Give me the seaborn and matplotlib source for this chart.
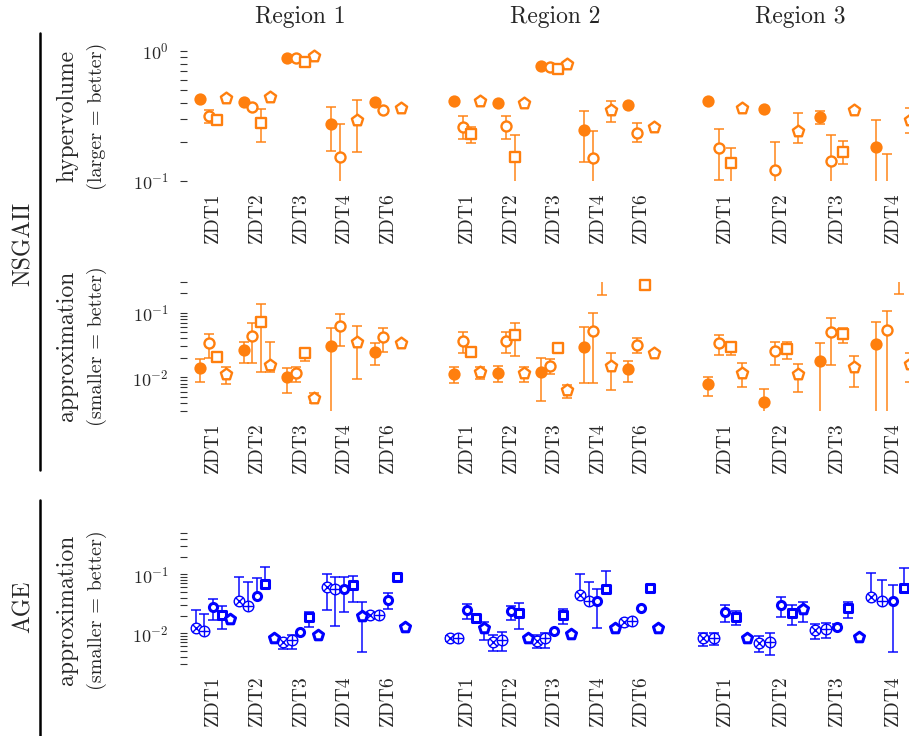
import numpy as np
import matplotlib
matplotlib.use("Agg")
import matplotlib.pyplot as plt
from matplotlib.lines import Line2D
from matplotlib.ticker import LogLocator, NullFormatter
import seaborn as sns

nan = np.nan

problems = ["ZDT1", "ZDT2", "ZDT3", "ZDT4", "ZDT6"]
regions = ["Region 1", "Region 2", "Region 3"]

# NSGAII hypervolume; rows: filled circle, open circle, square, pentagon
hv_r1 = [[0.425, 0.408, 0.88, 0.273, 0.408],
         [0.316, 0.369, 0.88, 0.154, 0.351],
         [0.294, 0.28, 0.83, nan, nan],
         [0.437, 0.445, 0.916, 0.294, 0.366]]
hv_r1_lo = [[nan, nan, nan, 0.171, nan],
            [0.28, nan, nan, 0.05, nan],
            [nan, 0.20, nan, nan, nan],
            [nan, nan, nan, 0.168, nan]]
hv_r1_hi = [[nan, nan, nan, 0.373, nan],
            [0.351, nan, nan, 0.274, nan],
            [nan, 0.36, nan, nan, nan],
            [nan, nan, nan, 0.42, nan]]

hv_r2 = [[0.415, 0.40, 0.767, 0.247, 0.385],
         [0.262, 0.265, 0.75, 0.149, 0.235],
         [0.23, 0.152, 0.724, nan, nan],
         [0.415, 0.40, 0.80, 0.351, 0.259]]
hv_r2_lo = [[nan, nan, nan, 0.14, nan],
            [0.209, 0.212, nan, 0.05, 0.20],
            [0.195, 0.05, nan, nan, nan],
            [nan, nan, nan, 0.286, 0.248]]
hv_r2_hi = [[nan, nan, nan, 0.347, nan],
            [0.316, 0.316, nan, 0.243, 0.278],
            [0.262, 0.225, nan, nan, nan],
            [nan, nan, nan, 0.415, 0.27]]

hv_r3 = [[0.415, 0.358, 0.309, 0.184, nan],
         [0.178, 0.121, 0.143, 0.08, nan],
         [0.138, nan, 0.168, nan, nan],
         [0.362, 0.244, 0.351, 0.294, nan]]
hv_r3_lo = [[nan, nan, 0.275, 0.05, nan],
            [0.101, 0.05, 0.05, 0.04, nan],
            [0.05, nan, 0.135, nan, nan],
            [0.35, 0.197, nan, 0.236, nan]]
hv_r3_hi = [[nan, nan, 0.347, 0.294, nan],
            [0.252, 0.20, 0.225, 0.16, nan],
            [0.181, nan, 0.202, nan, nan],
            [0.375, 0.335, nan, 0.362, nan]]

# NSGAII approximation
ap_r1 = [[0.0138, 0.0264, 0.0100, 0.0305, 0.0249],
         [0.0336, 0.0435, 0.0118, 0.0621, 0.0425],
         [0.0204, 0.0723, 0.0235, nan, nan],
         [0.0112, 0.0155, 0.00473, 0.0355, 0.0343]]
ap_r1_lo = [[0.0084, 0.0164, 0.0058, 0.001, 0.0155],
            [0.0197, 0.0168, 0.0086, 0.0305, 0.0249],
            [nan, 0.0119, 0.0181, nan, nan],
            [0.0079, 0.0119, 0.0040, 0.0094, 0.032]]
ap_r1_hi = [[0.019, 0.0355, 0.0138, 0.0571, 0.0335],
            [0.0463, 0.0684, 0.0143, 0.0942, 0.0585],
            [nan, 0.134, 0.0264, nan, nan],
            [0.0146, 0.0355, 0.0057, 0.0621, 0.0365]]

ap_r2 = [[0.0112, 0.0118, 0.0122, 0.0297, 0.0133],
         [0.0368, 0.0368, 0.0151, 0.0525, 0.0316],
         [0.0249, 0.0451, 0.0287, 0.45, 0.267],
         [0.0119, 0.0115, 0.00637, 0.0151, 0.024]]
ap_r2_lo = [[0.0081, 0.0084, 0.0043, 0.0081, 0.0086],
            [0.0235, 0.0241, 0.0112, 0.0081, 0.024],
            [0.0225, 0.0214, 0.026, 0.19, nan],
            [0.0093, 0.0084, 0.0047, 0.0064, 0.0225]]
ap_r2_hi = [[0.0146, 0.0149, 0.0201, 0.0591, 0.0179],
            [0.0506, 0.0496, 0.019, 0.0975, 0.0409],
            [0.0275, 0.0684, 0.032, 0.9, nan],
            [0.0146, 0.0143, 0.0076, 0.024, 0.0255]]

ap_r3 = [[0.0078, 0.0042, 0.0181, 0.0327, nan],
         [0.0343, 0.0255, 0.0496, 0.0538, nan],
         [0.0297, 0.0274, 0.0463, 0.45, nan],
         [0.0118, 0.0111, 0.0146, 0.0161, nan]]
ap_r3_lo = [[0.0051, 0.0028, 0.002, 0.002, nan],
            [0.0221, 0.0155, 0.0155, 0.002, nan],
            [0.0221, 0.019, 0.0335, 0.194, nan],
            [0.007, 0.0059, 0.007, 0.0086, nan]]
ap_r3_hi = [[0.0102, 0.0065, 0.0335, 0.0723, nan],
            [0.045, 0.0355, 0.0834, 0.107, nan],
            [0.0343, 0.0355, 0.057, 0.9, nan],
            [0.0164, 0.0159, 0.0216, 0.024, nan]]

# AGE approximation; rows: otimes, oplus, circle, square, pentagon
ag_r1 = [[0.0122, 0.0357, 0.0072, 0.0617, 0.0204],
         [0.0109, 0.029, 0.0077, 0.0557, 0.0204],
         [0.0276, 0.0428, 0.0104, 0.056, 0.0366],
         [0.0204, 0.0686, 0.0187, 0.066, 0.0889],
         [0.0173, 0.0082, 0.0094, 0.0196, 0.0129]]
ag_r1_lo = [[0.0115, 0.034, 0.0054, 0.0248, nan],
            [0.0103, 0.0275, 0.0054, 0.0134, 0.019],
            [0.0168, 0.041, nan, 0.0232, 0.0255],
            [0.0117, 0.066, 0.0129, 0.0344, nan],
            [nan, nan, nan, 0.0049, 0.012]]
ag_r1_hi = [[0.0248, 0.091, 0.0075, 0.100, nan],
            [0.0212, 0.075, 0.0094, 0.091, 0.0225],
            [0.0381, 0.0855, nan, 0.091, 0.0476],
            [0.0291, 0.1346, 0.0232, 0.0935, nan],
            [nan, nan, nan, 0.0344, 0.0138]]

ag_r2 = [[0.0082, 0.0072, 0.0075, 0.0446, 0.0157],
         [0.0084, 0.0077, 0.0082, 0.0352, 0.0161],
         [0.0248, 0.0242, 0.0109, 0.0352, 0.0266],
         [0.0184, 0.0223, 0.0204, 0.0557, 0.0593],
         [0.0122, 0.0082, 0.0097, 0.0122, 0.0122]]
ag_r2_lo = [[0.0075, 0.0051, 0.0057, 0.042, nan],
            [0.0078, 0.0051, 0.0056, 0.033, nan],
            [0.0173, 0.0168, nan, 0.0122, nan],
            [nan, 0.0117, 0.0144, 0.053, nan],
            [0.0077, nan, nan, 0.0112, 0.0114]]
ag_r2_hi = [[0.009, 0.0094, 0.0094, 0.101, nan],
            [0.009, 0.0104, 0.010, 0.075, nan],
            [0.031, 0.029, nan, 0.0557, nan],
            [nan, 0.0331, 0.0255, 0.114, nan],
            [0.0157, nan, nan, 0.0135, 0.013]]

ag_r3 = [[0.0082, 0.0069, 0.0114, 0.0417, nan],
         [0.0084, 0.0072, 0.0117, 0.0352, nan],
         [0.0232, 0.0302, 0.0126, 0.0352, nan],
         [0.0191, 0.0223, 0.0266, 0.0593, nan],
         [0.0082, 0.0255, 0.0087, 0.0122, nan]]
ag_r3_lo = [[0.0061, 0.0049, 0.0079, 0.040, nan],
            [0.0063, 0.0043, 0.0082, 0.033, nan],
            [0.0157, 0.0187, 0.0118, 0.0049, nan],
            [0.0138, 0.0138, 0.018, 0.057, nan],
            [nan, 0.0157, nan, nan, nan]]
ag_r3_hi = [[0.0102, 0.009, 0.0144, 0.106, nan],
            [0.0102, 0.010, 0.0147, 0.080, nan],
            [0.0302, 0.0407, 0.0142, 0.0661, nan],
            [0.0242, 0.0302, 0.0344, 0.126, nan],
            [nan, 0.0344, nan, nan, nan]]

ORANGE = "#ff7f0e"
BLUE = "#0000ff"

sns.set_theme(style="white")
plt.rcParams["font.family"] = ["cmr10", "DejaVu Serif"]
plt.rcParams["mathtext.fontset"] = "cm"
plt.rcParams["axes.formatter.use_mathtext"] = True

open_kw = dict(facecolor="white")
nsga_styles = [
    [dict(marker="o", s=78, facecolor=ORANGE, edgecolor=ORANGE, linewidth=0)],
    [dict(marker="o", s=52, edgecolor=ORANGE, linewidth=1.7, **open_kw)],
    [dict(marker="s", s=42, edgecolor=ORANGE, linewidth=1.7, **open_kw)],
    [dict(marker="p", s=72, edgecolor=ORANGE, linewidth=1.7, **open_kw)],
]
age_styles = [
    [dict(marker="o", s=58, edgecolor=BLUE, linewidth=1.0, **open_kw),
     dict(marker="x", s=29, color=BLUE, linewidth=1.0)],
    [dict(marker="o", s=58, edgecolor=BLUE, linewidth=1.0, **open_kw),
     dict(marker="+", s=58, color=BLUE, linewidth=1.0)],
    [dict(marker="o", s=34, edgecolor=BLUE, linewidth=2.2, **open_kw)],
    [dict(marker="s", s=34, edgecolor=BLUE, linewidth=2.2, **open_kw)],
    [dict(marker="p", s=58, edgecolor=BLUE, linewidth=2.2, **open_kw)],
]

rows = [
    ([hv_r1, hv_r2, hv_r3], [hv_r1_lo, hv_r2_lo, hv_r3_lo], [hv_r1_hi, hv_r2_hi, hv_r3_hi],
     nsga_styles, ORANGE, (0.1, 1.0)),
    ([ap_r1, ap_r2, ap_r3], [ap_r1_lo, ap_r2_lo, ap_r3_lo], [ap_r1_hi, ap_r2_hi, ap_r3_hi],
     nsga_styles, ORANGE, (0.003, 0.3)),
    ([ag_r1, ag_r2, ag_r3], [ag_r1_lo, ag_r2_lo, ag_r3_lo], [ag_r1_hi, ag_r2_hi, ag_r3_hi],
     age_styles, BLUE, (0.003, 0.5)),
]

W, H = 909, 736
fig = plt.figure(figsize=(W / 100, H / 100), dpi=100)

col_px = [(186.8, 414.0), (441.0, 667.0), (691.4, 982.6)]
row_px = [(51.0, 181.0), (281.8, 411.1), (533.1, 664.2)]


def px_axes(x0, x1, y0, y1):
    return fig.add_axes([x0 / W, 1 - y1 / H, (x1 - x0) / W, (y1 - y0) / H])


def draw_panel(ax, mid, lo, hi, styles, color, ylim):
    n = len(mid)
    base = np.arange(len(problems))
    for k in range(n):
        m = np.asarray(mid[k], dtype=float)
        l = np.asarray(lo[k], dtype=float)
        h = np.asarray(hi[k], dtype=float)
        xs = base + (k - (n - 1) / 2) * 0.2
        ok = np.isfinite(m) & np.isfinite(l) & np.isfinite(h)
        if ok.any():
            ax.errorbar(xs[ok], m[ok], yerr=[m[ok] - l[ok], h[ok] - m[ok]], fmt="none",
                        ecolor=color, alpha=0.75, elinewidth=1.4, capsize=3.5,
                        capthick=1.4, zorder=2 + 2 * k)
        vis = np.isfinite(m) & (m >= ylim[0]) & (m <= ylim[1])
        if not vis.any():
            continue
        for j, st in enumerate(styles[k]):
            sns.scatterplot(x=xs[vis], y=m[vis], ax=ax, legend=False, clip_on=False,
                            zorder=3 + 2 * k + 0.1 * j, **st)
    ax.set_yscale("log")
    ax.set_ylim(*ylim)
    ax.set_xlim(-0.6, 4.6)


for r, (mids, los, his, styles, color, ylim) in enumerate(rows):
    for c in range(3):
        x0, x1 = col_px[c]
        ax = px_axes(x0, x1, *row_px[r])
        ax.patch.set_alpha(0)
        draw_panel(ax, mids[c], los[c], his[c], styles, color, ylim)
        for sp in ax.spines.values():
            sp.set_visible(False)
        # only label the problems whose position lies inside the figure
        step = (x1 - x0) / 5.2
        shown = [i for i in range(len(problems)) if x0 + (i + 0.6) * step < W - 5]
        ax.set_xticks(shown)
        ax.set_xticklabels([problems[i] for i in shown], rotation=90, fontsize=14)
        ax.tick_params(axis="x", length=0, pad=8, bottom=False)
        ax.set_xlabel("")
        ax.set_ylabel("")
        if c == 0:
            ax.yaxis.set_major_locator(LogLocator(base=10))
            ax.yaxis.set_minor_locator(LogLocator(base=10, subs=np.arange(2, 10)))
            ax.yaxis.set_minor_formatter(NullFormatter())
            ax.tick_params(axis="y", which="both", left=True, direction="out",
                           length=5, width=0.8, color="#333333", labelsize=13, pad=8)
        else:
            ax.tick_params(axis="y", which="both", left=False, labelleft=False)

# column titles
for title, xc in zip(regions, [300, 555, 800]):
    fig.text(xc / W, 1 - 17 / H, title, ha="center", va="center", fontsize=17)

# row labels
row_text = [("hypervolume", "(larger = better)", 116),
            ("approximation", "(smaller = better)", 346),
            ("approximation", "(smaller = better)", 610)]
for main, sub, yc in row_text:
    fig.text(67 / W, 1 - yc / H, main, rotation=90, ha="center", va="center", fontsize=17)
    fig.text(97 / W, 1 - yc / H, sub, rotation=90, ha="center", va="center", fontsize=14.5)

fig.text(24 / W, 1 - 244 / H, "NSGAII", rotation=90, ha="center", va="center", fontsize=17)
fig.text(24 / W, 1 - 607 / H, "AGE", rotation=90, ha="center", va="center", fontsize=17)
fig.add_artist(Line2D([40 / W, 40 / W], [1 - 33 / H, 1 - 470 / H], transform=fig.transFigure,
                      color="black", linewidth=1.8))
fig.add_artist(Line2D([40 / W, 40 / W], [1 - 500 / H, 1 - 736 / H], transform=fig.transFigure,
                      color="black", linewidth=1.8))

fig.savefig("out.png", dpi=100)
